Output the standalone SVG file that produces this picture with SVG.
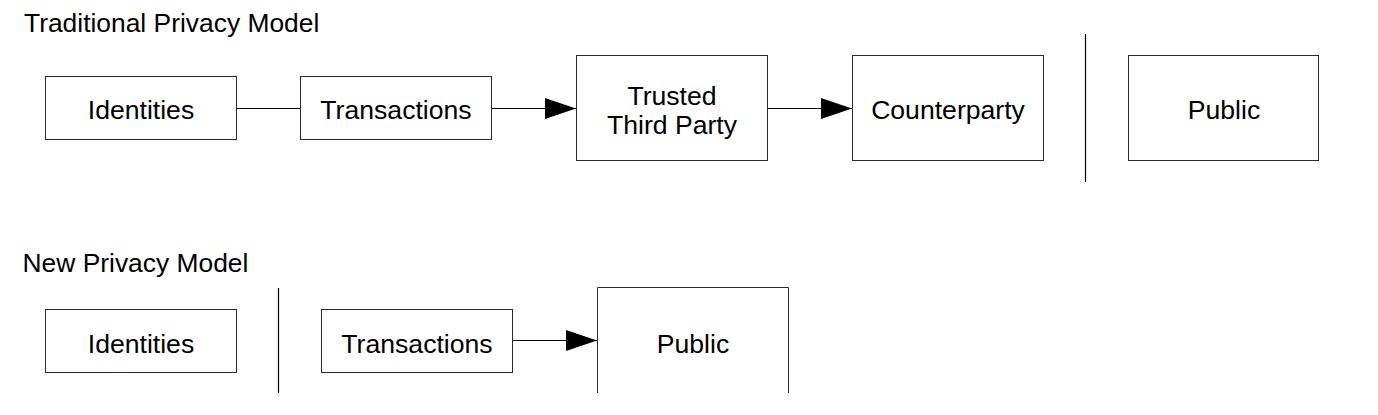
<svg xmlns="http://www.w3.org/2000/svg" width="1378" height="415" viewBox="0 0 1378 415">
  <style>
    .box { fill: #ffffff; stroke: #2a2a2a; stroke-width: 1; }
    .lbl { font-family: "Liberation Sans", Arial, sans-serif; font-size: 26.6px; fill: #000; text-anchor: middle; }
    .title { font-family: "Liberation Sans", Arial, sans-serif; font-size: 26.4px; fill: #000; }
    .conn { stroke: #000; stroke-width: 1; fill: none; }
    .sep { stroke: #000; stroke-width: 1.2; fill: none; }
  </style>
  <defs>
    <marker id="arrow" markerUnits="userSpaceOnUse" markerWidth="31" markerHeight="21" refX="31" refY="10.5" orient="auto">
      <path d="M0,0 L31,10.5 L0,21 Z" fill="#000"/>
    </marker>
  </defs>
  <rect width="1378" height="415" fill="#ffffff"/>

  <text class="title" x="24" y="32">Traditional Privacy Model</text>
  <text class="title" x="22.5" y="272">New Privacy Model</text>

  <g id="separators">
    <line class="sep" x1="1085.5" y1="34" x2="1085.5" y2="182"/>
    <line class="sep" x1="278.5" y1="288" x2="278.5" y2="393"/>
  </g>

  <g id="connectors">
    <line class="conn" x1="236" y1="108.5" x2="300" y2="108.5"/>
    <line class="conn" x1="491.5" y1="108.5" x2="576" y2="108.5" marker-end="url(#arrow)"/>
    <line class="conn" x1="767" y1="108.5" x2="852" y2="108.5" marker-end="url(#arrow)"/>
    <line class="conn" x1="512" y1="340.5" x2="597" y2="340.5" marker-end="url(#arrow)"/>
  </g>

  <g id="top-identities">
    <rect class="box" x="45.5" y="76.5" width="191" height="63"/>
    <text class="lbl" x="141" y="119.3">Identities</text>
  </g>
  <g id="top-transactions">
    <rect class="box" x="300.5" y="76.5" width="191" height="63"/>
    <text class="lbl" x="396" y="119.3">Transactions</text>
  </g>
  <g id="top-ttp">
    <rect class="box" x="576.5" y="55.5" width="191" height="105"/>
    <text class="lbl" x="672" y="105">Trusted</text>
    <text class="lbl" x="672" y="134.3">Third Party</text>
  </g>
  <g id="top-counterparty">
    <rect class="box" x="852.5" y="55.5" width="191" height="105"/>
    <text class="lbl" x="948" y="119.3">Counterparty</text>
  </g>
  <g id="top-public">
    <rect class="box" x="1128.5" y="55.5" width="190" height="105"/>
    <text class="lbl" x="1224" y="119.3">Public</text>
  </g>

  <g id="new-identities">
    <rect class="box" x="45.5" y="309.5" width="191" height="63"/>
    <text class="lbl" x="141" y="352.7">Identities</text>
  </g>
  <g id="new-transactions">
    <rect class="box" x="321.5" y="309.5" width="191" height="63"/>
    <text class="lbl" x="417" y="352.7">Transactions</text>
  </g>
  <g id="new-public">
    <path class="box" d="M597.5,393 L597.5,287.5 L788.5,287.5 L788.5,393"/>
    <text class="lbl" x="693" y="352.7">Public</text>
  </g>
</svg>
